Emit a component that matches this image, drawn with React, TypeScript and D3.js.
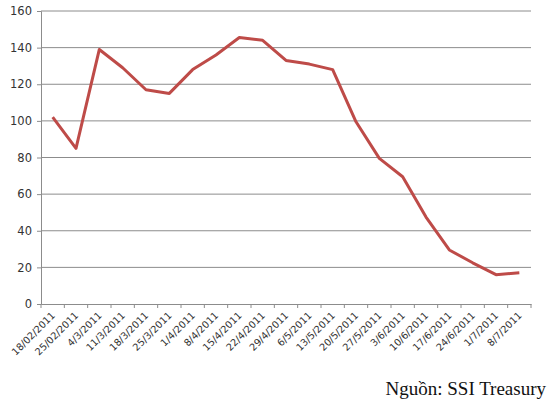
import { useEffect, useRef } from "react";
import * as d3 from "d3";

// ---------------------------------------------------------------------------
// Data
// ---------------------------------------------------------------------------

const DATES = [
  "18/02/2011",
  "25/02/2011",
  "4/3/2011",
  "11/3/2011",
  "18/3/2011",
  "25/3/2011",
  "1/4/2011",
  "8/4/2011",
  "15/4/2011",
  "22/4/2011",
  "29/4/2011",
  "6/5/2011",
  "13/5/2011",
  "20/5/2011",
  "27/5/2011",
  "3/6/2011",
  "10/6/2011",
  "17/6/2011",
  "24/6/2011",
  "1/7/2011",
  "8/7/2011",
];

const VALUES = [
  102, 85, 139, 129, 117, 115, 128, 136, 145.5, 144, 133, 131, 128, 99.5, 79.5,
  69.5, 47.5, 29.5, 22.5, 16, 17,
];

const Y_TICKS = [0, 20, 40, 60, 80, 100, 120, 140, 160];

const SOURCE = "Nguồn: SSI Treasury";

// ---------------------------------------------------------------------------
// Component
// ---------------------------------------------------------------------------

const WIDTH = 550;
const HEIGHT = 406;
const M = { top: 11, right: 19, bottom: 102, left: 41 };

export default function App() {
  const svgRef = useRef<SVGSVGElement>(null);

  useEffect(() => {
    const svg = d3.select(svgRef.current);
    svg.selectAll("*").remove();

    const x = d3
      .scaleBand<string>()
      .domain(DATES)
      .range([M.left, WIDTH - M.right]);
    const y = d3
      .scaleLinear()
      .domain([0, 160])
      .range([HEIGHT - M.bottom, M.top]);

    const g = svg.append("g");

    // ---- Gridlines ----
    g.selectAll("line.grid")
      .data(Y_TICKS.filter((t) => t > 0))
      .join("line")
      .attr("class", "grid")
      .attr("x1", M.left)
      .attr("x2", WIDTH - M.right)
      .attr("y1", (d) => y(d))
      .attr("y2", (d) => y(d))
      .attr("stroke", "#8c8c8c")
      .attr("stroke-width", 1);

    // ---- Y axis ----
    const yAxis = g
      .append("g")
      .attr("transform", `translate(${M.left},0)`)
      .call(d3.axisLeft(y).tickValues(Y_TICKS).tickSize(4).tickPadding(5));
    yAxis.select(".domain").attr("stroke", "#8c8c8c");
    yAxis.selectAll(".tick line").attr("stroke", "#8c8c8c");
    yAxis
      .selectAll(".tick text")
      .attr("fill", "#333")
      .attr("font-size", 11.5)
      .attr("font-family", "'DejaVu Sans', sans-serif");

    // ---- X axis ----
    const xAxis = g
      .append("g")
      .attr("transform", `translate(0,${HEIGHT - M.bottom})`)
      .call(d3.axisBottom(x).tickSize(0).tickPadding(0));
    xAxis.select(".domain").attr("stroke", "#8c8c8c");

    // boundary tick marks between categories
    const bounds = [...DATES.map((d) => x(d)!), WIDTH - M.right];
    xAxis
      .selectAll("line.bound")
      .data(bounds)
      .join("line")
      .attr("class", "bound")
      .attr("x1", (d) => d)
      .attr("x2", (d) => d)
      .attr("y1", 0)
      .attr("y2", 4)
      .attr("stroke", "#8c8c8c");

    xAxis
      .selectAll(".tick text")
      .attr("fill", "#333")
      .attr("font-size", 9.8)
      .attr("font-family", "'DejaVu Sans', sans-serif")
      .attr("text-anchor", "end")
      .attr("dy", 0)
      .attr("transform", "translate(3,12) rotate(-45)");

    // ---- Line ----
    const line = d3
      .line<number>()
      .x((_d, i) => x(DATES[i])! + x.bandwidth() / 2)
      .y((d) => y(d));

    g.append("path")
      .datum(VALUES)
      .attr("d", line)
      .attr("fill", "none")
      .attr("stroke", "#be4b48")
      .attr("stroke-width", 3)
      .attr("stroke-linejoin", "round");

    // ---- Source note ----
    svg
      .append("text")
      .attr("x", WIDTH - 4)
      .attr("y", 395)
      .attr("text-anchor", "end")
      .attr("fill", "#111")
      .attr("font-size", 19)
      .attr("font-family", "'Liberation Serif', 'DejaVu Serif', serif")
      .text(SOURCE);
  }, []);

  return (
    <svg
      ref={svgRef}
      width={WIDTH}
      height={HEIGHT}
      style={{ position: "absolute", left: 0, top: 0, background: "#fff" }}
    />
  );
}
